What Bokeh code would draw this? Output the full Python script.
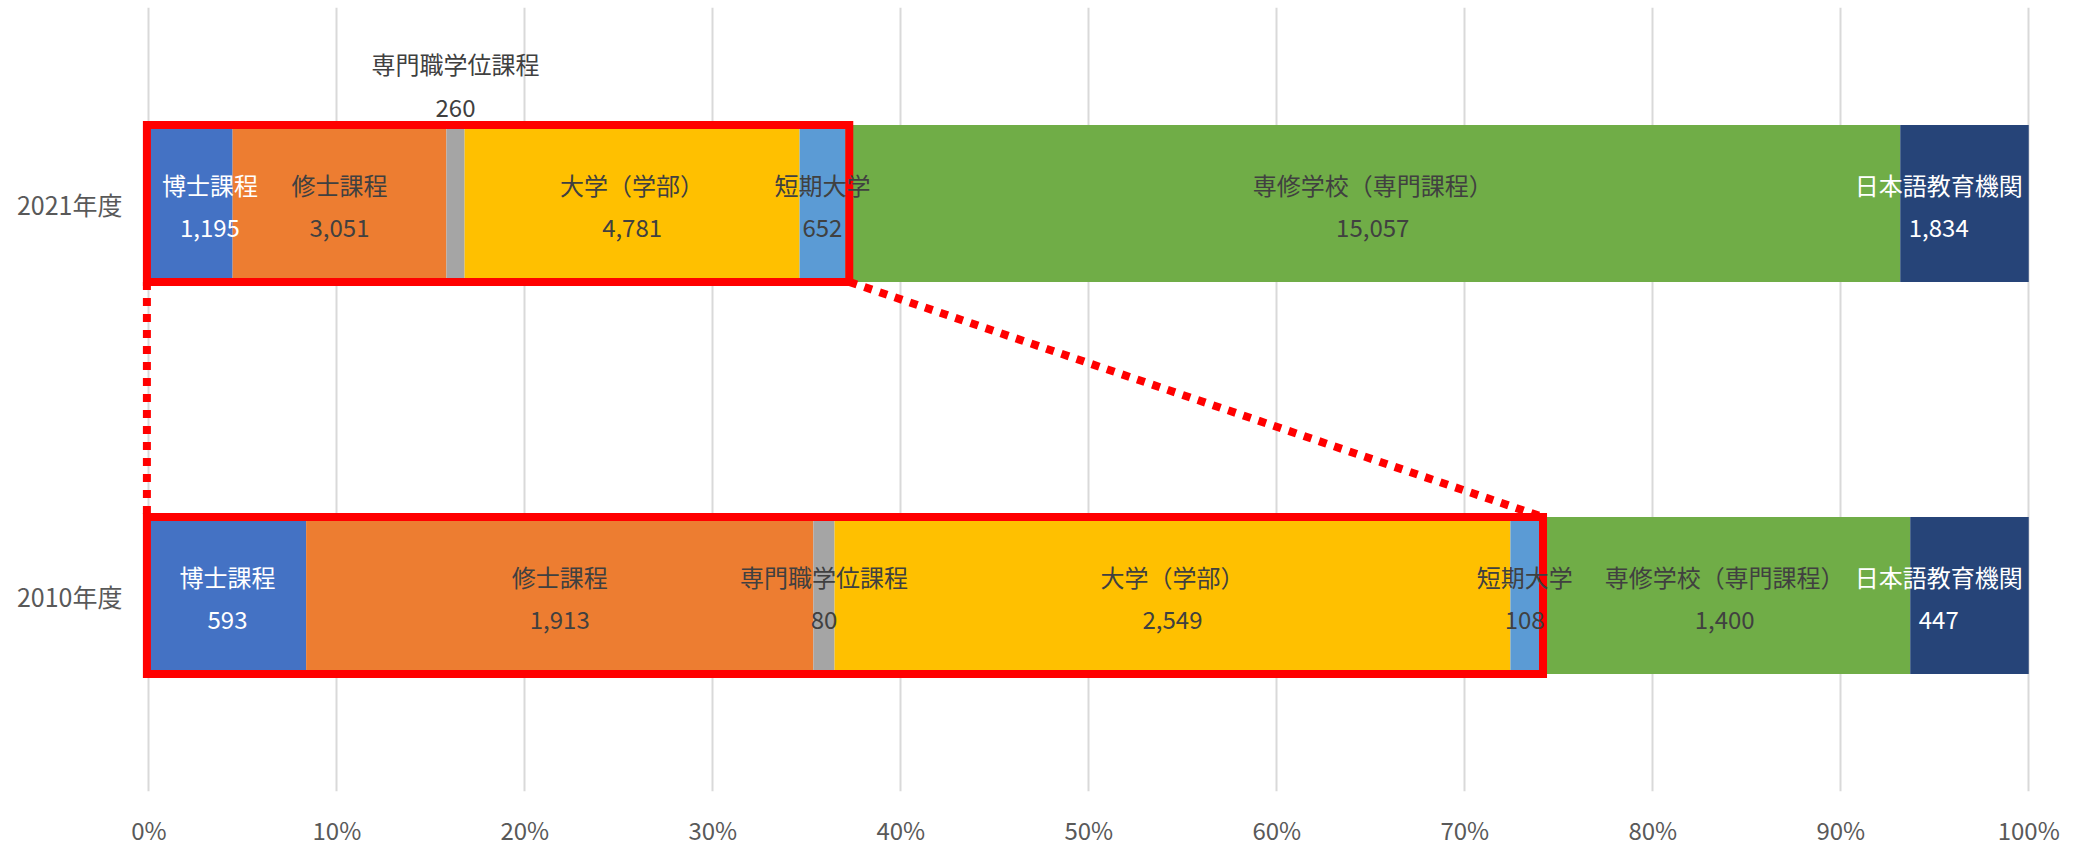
from bokeh.plotting import figure
from bokeh.models import Range1d, FactorRange, FixedTicker, PrintfTickFormatter, ColumnDataSource
from bokeh.core.properties import value
from bokeh.embed import file_html
from bokeh.resources import INLINE

# ---------------- data ----------------
years = ["2010年度", "2021年度"]          # bottom -> top
categories = ["博士課程", "修士課程", "専門職学位課程", "大学（学部）",
              "短期大学", "専修学校（専門課程）", "日本語教育機関"]
values_2010 = [593, 1913, 80, 2549, 108, 1400, 447]
values_2021 = [1195, 3051, 260, 4781, 652, 15057, 1834]
x_ticks = [0, 10, 20, 30, 40, 50, 60, 70, 80, 90, 100]
# number of leading categories framed by the red box (博士課程〜短期大学)
boxed_count = 5

# ---------------- style ----------------
seg_colors = ["#4472C4", "#ED7D31", "#A5A5A5", "#FFC000", "#5B9BD5", "#70AD47", "#264478"]
label_colors = ["#FFFFFF", "#404040", "#404040", "#404040", "#404040", "#404040", "#FFFFFF"]
FONT = "Noto Sans CJK JP"
FS = 24
W, H = 2074, 851
B_LEFT, B_RIGHT, B_TOP, B_BOTTOM = 139, 42, 7, 60
X0, X1 = -0.5, 100.2
PPU = (W - B_LEFT - B_RIGHT) / (X1 - X0)   # pixels per percent
BAR_H = 0.4
NAME_DY, VALUE_DY = -19, 24
RAISED = {("2021年度", "専門職学位課程"): (-140, -96)}   # label moved above the bar
CLAMP_L, CLAMP_R = 13, 6                                # label block kept inside plot

p = figure(width=W, height=H, output_backend="svg", toolbar_location=None,
           x_range=Range1d(X0, X1), y_range=FactorRange(factors=years),
           min_border_left=B_LEFT, min_border_right=B_RIGHT,
           min_border_top=B_TOP, min_border_bottom=B_BOTTOM)
p.outline_line_color = None
p.background_fill_color = "#FFFFFF"
p.border_fill_color = "#FFFFFF"

seg = dict(y=[], left=[], right=[], color=[])
lab = dict(x=[], y=[], text=[], color=[], dx=[], dy=[])
box = dict(y=[], left=[], right=[])
box_right = {}

for yr, vals in zip(years, [values_2010, values_2021]):
    total = float(sum(vals))
    cum = 0.0
    for i, (cat, v) in enumerate(zip(categories, vals)):
        l = cum / total * 100
        cum += v
        r = cum / total * 100
        seg["y"].append(yr); seg["left"].append(l); seg["right"].append(r)
        seg["color"].append(seg_colors[i])
        mid = (l + r) / 2
        half = max(len(cat) * FS, len(f"{v:,}") * FS * 0.55) / 2
        lo = CLAMP_L / PPU + half / PPU
        hi = 100 - CLAMP_R / PPU - half / PPU
        xm = min(max(mid, lo), hi)
        dyn, dyv = RAISED.get((yr, cat), (NAME_DY, VALUE_DY))
        for txt, dy in ((cat, dyn), (f"{v:,}", dyv)):
            lab["x"].append(xm); lab["y"].append(yr); lab["text"].append(txt)
            lab["color"].append(label_colors[i]); lab["dx"].append(0); lab["dy"].append(dy)
        if i == boxed_count - 1:
            box_right[yr] = r

p.hbar(y="y", left="left", right="right", height=BAR_H, fill_color="color",
       line_color=None, source=ColumnDataSource(seg))

PAD_L, PAD_R = 2 / PPU, 4 / PPU
for yr in years:
    box["y"].append(yr); box["left"].append(0 - PAD_L); box["right"].append(box_right[yr] + PAD_R)
p.hbar(y="y", left="left", right="right", height=BAR_H, fill_color=None,
       line_color="#FF0000", line_width=8, line_join="miter", source=ColumnDataSource(box))

# dotted connectors between the two red boxes
top_yr, bot_yr = years[1], years[0]
p.segment(x0=[0 - PAD_L, box_right[top_yr] + PAD_R],
          y0=[(top_yr, -BAR_H / 2), (top_yr, -BAR_H / 2)],
          x1=[0 - PAD_L, box_right[bot_yr] + PAD_R],
          y1=[(bot_yr, BAR_H / 2), (bot_yr, BAR_H / 2)],
          line_color="#FF0000", line_width=8, line_dash="8 8", line_cap="butt")

p.text(x="x", y="y", text="text", text_color="color", x_offset="dx", y_offset="dy",
       text_align="center", text_baseline="middle", text_font=value(FONT),
       text_font_size=f"{FS}px", source=ColumnDataSource(lab))

# axes
p.xaxis.ticker = FixedTicker(ticks=x_ticks)
p.xaxis.formatter = PrintfTickFormatter(format="%d%%")
p.xaxis.axis_line_color = None
p.xaxis.major_tick_line_color = None
p.xaxis.minor_tick_line_color = None
p.xaxis.major_tick_out = 0
p.xaxis.major_label_standoff = 20
p.xaxis.major_label_text_font = FONT
p.xaxis.major_label_text_font_size = "24px"
p.xaxis.major_label_text_color = "#595959"

p.yaxis.axis_line_color = None
p.yaxis.major_tick_line_color = None
p.yaxis.major_tick_out = 0
p.yaxis.major_label_standoff = 17
p.yaxis.major_label_text_font = FONT
p.yaxis.major_label_text_font_size = "25px"
p.yaxis.major_label_text_color = "#595959"

p.xgrid.grid_line_color = "#D9D9D9"
p.xgrid.grid_line_width = 2
p.ygrid.grid_line_color = None

open("out.html", "w").write(file_html(p, INLINE))
